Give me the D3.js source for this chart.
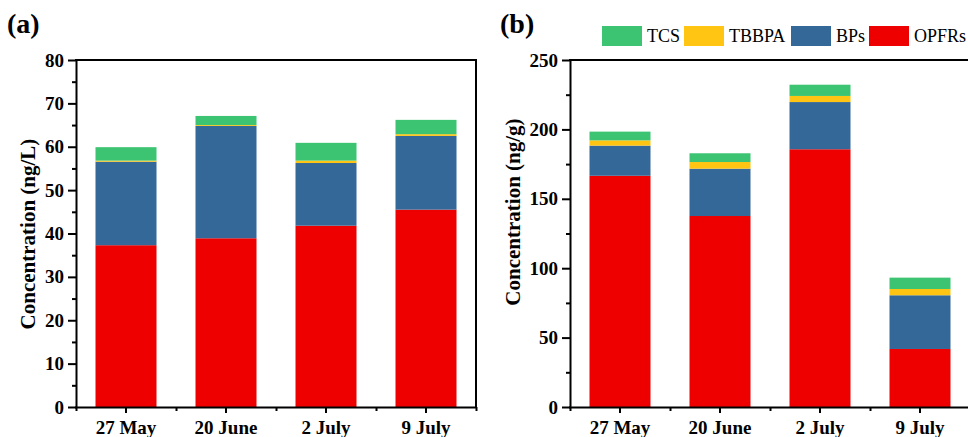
<!DOCTYPE html>
<html><head><meta charset="utf-8">
<script src="https://cdn.jsdelivr.net/npm/d3@7"></script>
<style>body{margin:0;background:#fff}svg{display:block}text{font-family:"Liberation Serif","Times New Roman",serif}</style>
</head><body>
<svg id="chart" width="968" height="437"></svg>
<script>
const categories = ["27 May", "20 June", "2 July", "9 July"];
const seriesKeys = ["OPFRs", "BPs", "TBBPA", "TCS"];
// Panel (a) water, ng/L
const waterOPFRs = [37.3, 38.9, 41.8, 45.5];
const waterBPs   = [19.25, 25.9, 14.45, 17.0];
const waterTBBPA = [0.25, 0.2, 0.55, 0.4];
const waterTCS   = [3.1, 2.1, 4.1, 3.3];
// Panel (b) sediment/solid, ng/g
const solidOPFRs = [166.6, 137.6, 185.7, 41.8];
const solidBPs   = [21.7, 34.1, 34.0, 38.7];
const solidTBBPA = [3.8, 4.8, 4.4, 4.5];
const solidTCS   = [6.3, 6.3, 8.1, 8.2];
const yTicksA = [0, 10, 20, 30, 40, 50, 60, 70, 80];
const yTicksB = [0, 50, 100, 150, 200, 250];
const legendOrder = ["TCS", "TBBPA", "BPs", "OPFRs"];
const colors = {OPFRs: "#ee0000", BPs: "#346899", TBBPA: "#ffc512", TCS: "#3cc472"};

const svg = d3.select("#chart");

function buildRows(o, b, t, c) {
  return categories.map((cat, i) => ({cat, OPFRs: o[i], BPs: b[i], TBBPA: t[i], TCS: c[i]}));
}

function panel(cfg) {
  const {left, right, top, bottom, rows, yMax, yTicks, yMinorStep, title, titleX, titleY, label, labelX, showRight, tickFont} = cfg;
  const g = svg.append("g");
  const x = d3.scaleBand().domain(categories).range([left, right]).paddingInner(0.39).paddingOuter(0.195);
  const y = d3.scaleLinear().domain([0, yMax]).range([bottom, top]);
  const stacked = d3.stack().keys(seriesKeys)(rows);
  g.selectAll("g.layer").data(stacked).join("g").attr("fill", d => colors[d.key])
    .selectAll("rect").data(d => d).join("rect")
    .attr("x", d => x(d.data.cat)).attr("width", x.bandwidth())
    .attr("y", d => y(d[1])).attr("height", d => y(d[0]) - y(d[1]));

  // frame
  g.append("line").attr("x1", left - 1).attr("x2", right + 1).attr("y1", top).attr("y2", top).attr("stroke", "#000").attr("stroke-width", 2);
  if (showRight) g.append("line").attr("x1", right).attr("x2", right).attr("y1", top).attr("y2", bottom).attr("stroke", "#000").attr("stroke-width", 2);

  // minor y ticks
  const minor = d3.range(yMinorStep, yMax, yMinorStep * 2);
  g.append("g").attr("transform", `translate(${left},0)`)
    .call(d3.axisLeft(y).tickValues(minor).tickSize(4).tickFormat(""))
    .call(s => s.select(".domain").remove())
    .selectAll("line").attr("stroke-width", 2);
  // major y axis
  const ya = g.append("g").attr("transform", `translate(${left},0)`)
    .call(d3.axisLeft(y).tickValues(yTicks).tickSize(8).tickSizeOuter(0).tickPadding(4));
  ya.select(".domain").attr("stroke-width", 2);
  ya.selectAll("line").attr("stroke-width", 2);
  ya.selectAll("text").attr("font-size", tickFont).attr("font-weight", "bold").attr("fill", "#000")
    .attr("font-family", '"Liberation Serif", serif');

  // minor x ticks at band boundaries
  const xb = d3.scaleLinear().domain([0, categories.length]).range([left, right]);
  g.append("g").attr("transform", `translate(0,${bottom})`)
    .call(d3.axisBottom(xb).tickValues(d3.range(0, categories.length + 1)).tickSize(4).tickFormat(""))
    .call(s => s.select(".domain").remove())
    .selectAll("line").attr("stroke-width", 2);
  const xa = g.append("g").attr("transform", `translate(0,${bottom})`)
    .call(d3.axisBottom(x).tickSize(6).tickSizeOuter(0).tickPadding(8));
  xa.select(".domain").attr("stroke-width", 2).attr("d", `M${left - 1},0.5H${right + 1}`);
  xa.selectAll("line").attr("stroke-width", 2);
  xa.selectAll("text").attr("font-size", tickFont).attr("font-weight", "bold").attr("fill", "#000")
    .attr("font-family", '"Liberation Serif", serif');

  svg.append("text").attr("transform", `translate(${titleX},${titleY}) rotate(-90)`)
    .attr("text-anchor", "middle").attr("font-size", 21).attr("font-weight", "bold").text(title);
  svg.append("text").attr("x", labelX).attr("y", 33).attr("font-size", 28).attr("font-weight", "bold").text(label);
}

panel({left: 76, right: 476, top: 60, bottom: 407, rows: buildRows(waterOPFRs, waterBPs, waterTBBPA, waterTCS),
  yMax: 80, yTicks: yTicksA, yMinorStep: 5, title: "Concentration (ng/L)", titleX: 35, titleY: 234,
  label: "(a)", labelX: 7, showRight: true, tickFont: 19});
panel({left: 570, right: 970, top: 60, bottom: 407, rows: buildRows(solidOPFRs, solidBPs, solidTBBPA, solidTCS),
  yMax: 250, yTicks: yTicksB, yMinorStep: 25, title: "Concentration (ng/g)", titleX: 520, titleY: 212,
  label: "(b)", labelX: 500, showRight: true, tickFont: 19});

// legend
const legX = [602, 684, 791, 869];
const lg = svg.append("g");
legendOrder.forEach((k, i) => {
  lg.append("rect").attr("x", legX[i]).attr("y", 26).attr("width", 40).attr("height", 20).attr("fill", colors[k]);
  lg.append("text").attr("x", legX[i] + 45).attr("y", 42).attr("font-size", 18).text(k);
});
</script>
</body></html>
